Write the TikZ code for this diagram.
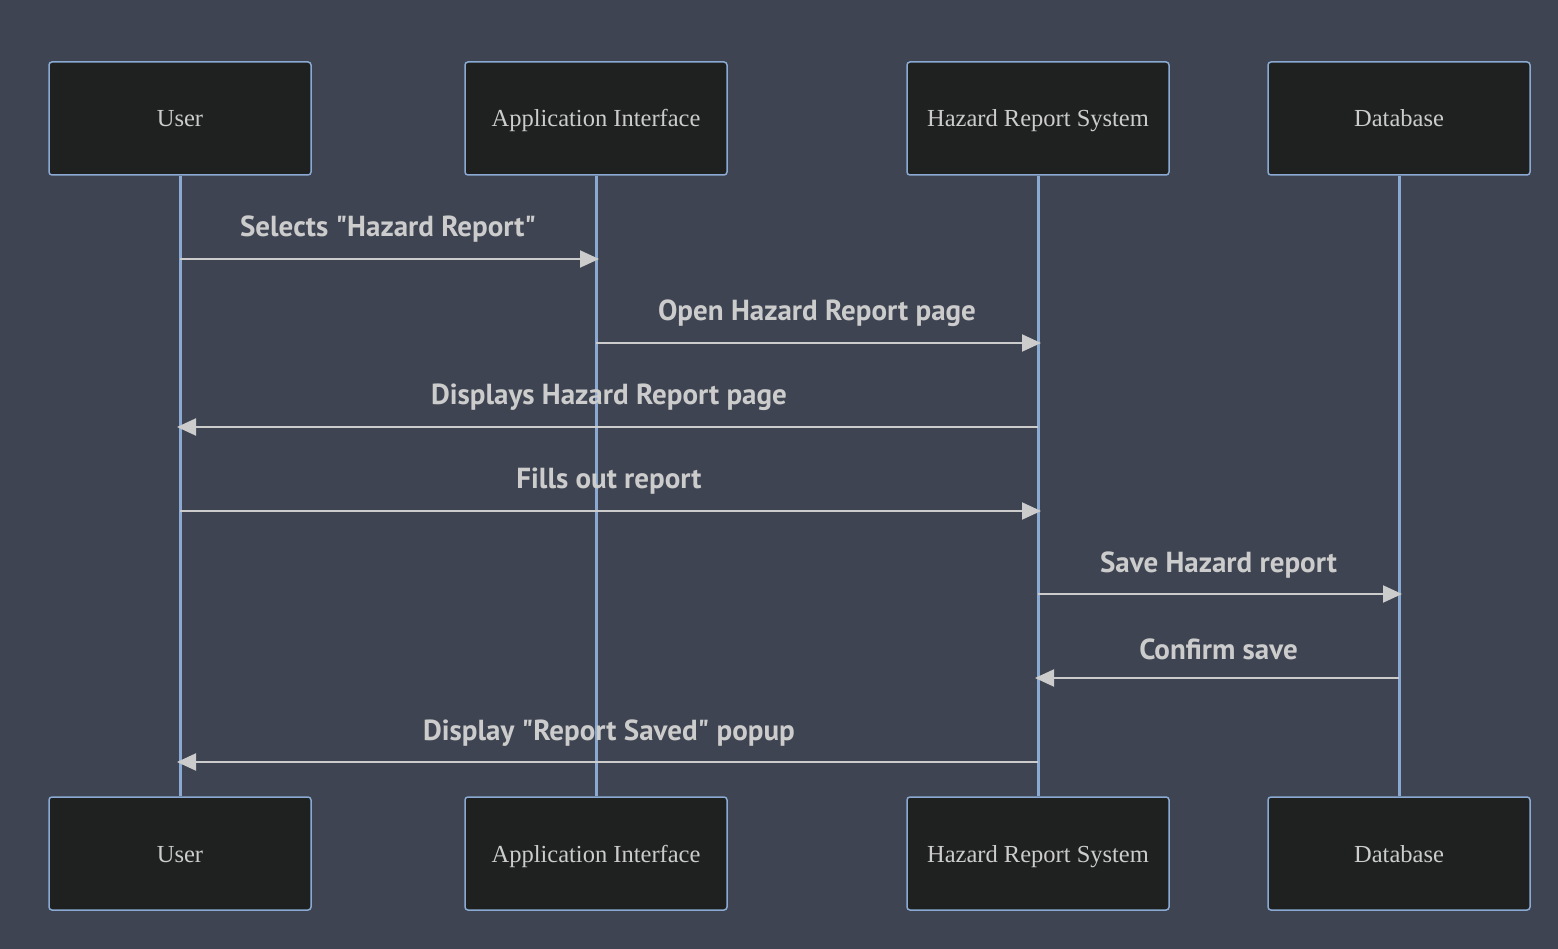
\documentclass[tikz,border=0pt]{standalone}
\usepackage{fontspec}
\setmainfont{Liberation Serif}
\newfontfamily\msgfont{PT Sans}
\usetikzlibrary{arrows.meta}

\definecolor{bgcol}{HTML}{3E4451}
\definecolor{boxcol}{HTML}{1F2020}
\definecolor{linecol}{HTML}{8AAAD3}
\definecolor{txtcol}{HTML}{CCCCCC}

\begin{document}
\begin{tikzpicture}[x=1pt,y=-1pt,
      actor/.style={draw=linecol,fill=boxcol,line width=1.5pt,rounded corners=3pt,
            minimum width=262pt,minimum height=113pt,text=txtcol,
            text height=22pt,text depth=5pt,
            font=\fontsize{24.5}{28}\selectfont},
      life/.style={draw=linecol,line width=3pt},
      msg/.style={draw=txtcol,line width=2pt,-{Triangle[length=19pt,width=17pt]},shorten >=-3pt},
      lbl/.style={text=txtcol,font=\msgfont\bfseries\fontsize{29}{33}\selectfont}]
      \fill[bgcol] (0,0) rectangle (1558,949);
      \useasboundingbox (0,0) rectangle (1558,949);
      \node[actor] (usertop) at (180,118.5) {User};
      \node[actor] (apptop) at (596,118.5) {Application Interface};
      \node[actor] (hrstop) at (1038,118.5) {Hazard Report System};
      \node[actor] (dbtop) at (1399,118.5) {Database};
      \node[actor] (userbot) at (180,853.5) {User};
      \node[actor] (appbot) at (596,853.5) {Application Interface};
      \node[actor] (hrsbot) at (1038,853.5) {Hazard Report System};
      \node[actor] (dbbot) at (1399,853.5) {Database};
      \draw[life] (usertop.south) -- (userbot.north);
      \draw[life] (apptop.south) -- (appbot.north);
      \draw[life] (hrstop.south) -- (hrsbot.north);
      \draw[life] (dbtop.south) -- (dbbot.north);
      \draw[msg] (usertop |- 0,259) -- (apptop |- 0,259);
      \node[lbl] (m1) at (388,229) {Selects "Hazard Report"};
      \draw[msg] (apptop |- 0,343) -- (hrstop |- 0,343);
      \node[lbl] (m2) at (817,313) {Open Hazard Report page};
      \draw[msg] (hrstop |- 0,427) -- (usertop |- 0,427);
      \node[lbl] (m3) at (609,397) {Displays Hazard Report page};
      \draw[msg] (usertop |- 0,511) -- (hrstop |- 0,511);
      \node[lbl] (m4) at (609,481) {Fills out report};
      \draw[msg] (hrstop |- 0,594) -- (dbtop |- 0,594);
      \node[lbl] (m5) at (1218.5,565) {Save Hazard report};
      \draw[msg] (dbtop |- 0,678) -- (hrstop |- 0,678);
      \node[lbl] (m6) at (1218.5,649) {Confirm save};
      \draw[msg] (hrstop |- 0,762) -- (usertop |- 0,762);
      \node[lbl] (m7) at (609,733) {Display "Report Saved" popup};
\end{tikzpicture}
\end{document}
